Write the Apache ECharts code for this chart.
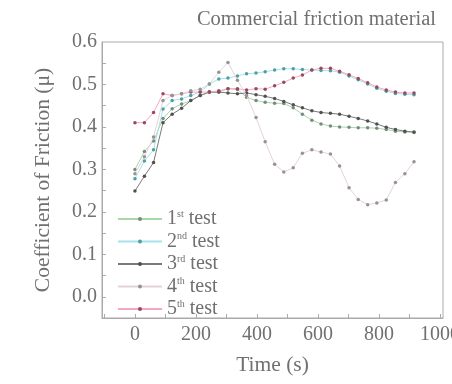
<!DOCTYPE html>
<html><head><meta charset="utf-8">
<script src="https://cdn.jsdelivr.net/npm/echarts@6/dist/echarts.min.js"></script>
<style>html,body{margin:0;padding:0;background:#fff}#c{width:452px;height:384px}</style>
</head><body><div id="c"></div>
<script>
const times = [0,31,61,92,122,153,183,214,244,275,305,336,366,397,427,458,488,519,549,580,610,641,671,702,732,763,793,824,854,885,915];
const test1 = [0.300,0.342,0.367,0.420,0.443,0.454,0.462,0.474,0.482,0.482,0.490,0.488,0.470,0.462,0.458,0.456,0.455,0.445,0.430,0.416,0.407,0.402,0.400,0.399,0.398,0.398,0.397,0.394,0.390,0.388,0.387];
const test2 = [0.278,0.320,0.346,0.442,0.462,0.466,0.474,0.482,0.501,0.513,0.515,0.520,0.525,0.527,0.530,0.534,0.537,0.537,0.535,0.534,0.533,0.532,0.529,0.520,0.511,0.501,0.491,0.484,0.479,0.477,0.476];
const test3 = [0.249,0.284,0.316,0.410,0.430,0.444,0.462,0.474,0.482,0.482,0.480,0.478,0.480,0.476,0.472,0.467,0.460,0.452,0.445,0.438,0.434,0.432,0.430,0.425,0.420,0.414,0.407,0.399,0.394,0.390,0.388];
const test4 = [0.290,0.330,0.376,0.462,0.474,0.478,0.485,0.489,0.501,0.529,0.552,0.510,0.474,0.422,0.365,0.312,0.294,0.304,0.338,0.346,0.341,0.336,0.308,0.257,0.229,0.217,0.221,0.228,0.269,0.290,0.318];
const test5 = [0.410,0.410,0.434,0.478,0.474,0.478,0.482,0.482,0.482,0.485,0.490,0.490,0.487,0.490,0.489,0.497,0.505,0.515,0.522,0.534,0.538,0.538,0.531,0.523,0.514,0.504,0.494,0.487,0.482,0.480,0.480];
const xTickLabels = [0,200,400,600,800,1000];
const xTicks = [-100,0,100,200,300,400,500,600,700,800,900,1000];
const yTickLabels = [0,0.1,0.2,0.3,0.4,0.5,0.6];
const yTicks = [0,0.05,0.1,0.15,0.2,0.25,0.3,0.35,0.4,0.45,0.5,0.55];
const names = ['1st test','2nd test','3rd test','4th test','5th test'];
const lineColors = ['#a6d8aa','#a8e2ea','#7a7a7a','#e6d2d9','#f2a9c0'];
const markColors = ['#7a8a7e','#4aa0a4','#505050','#949494','#9a4862'];
const allData = [test1,test2,test3,test4,test5];

const FONT = 'Liberation Serif';
const TXT = '#707070';
const chart = echarts.init(document.getElementById('c'), null, {renderer:'canvas'});
const series = allData.map((d,i)=>({
  name: names[i], type:'line',
  data: times.map((t,j)=>[t,d[j]]),
  symbol:'circle', symbolSize:3.5,
  lineStyle:{color:lineColors[i], width:1},
  itemStyle:{color:markColors[i]},
  z: i===3?3:2
}));
chart.setOption({
  animation:false,
  title:{text:'Commercial friction material', right:11, top:4,
    textStyle:{fontFamily:FONT, fontSize:20.5, fontWeight:'normal', color:TXT}},
  grid:{left:102, right:9, top:42, bottom:66, show:true, borderColor:'#aaaaaa', borderWidth:1,
    containLabel:false, outerBoundsMode:'none'},
  legend:{orient:'vertical', left:112, top:204, itemWidth:44, itemHeight:5, itemGap:2.5,
    data:names,
    formatter:function(n){const m=n.match(/^(\d)(\w\w) (test)$/);return '{n|'+m[1]+'}{s|'+m[2]+'}{n| '+m[3]+'}';},
    textStyle:{color:TXT, rich:{
      n:{fontFamily:FONT, fontSize:20, color:TXT, verticalAlign:'bottom', lineHeight:20},
      s:{fontFamily:FONT, fontSize:10, color:TXT, verticalAlign:'top', lineHeight:20}
    }}},
  xAxis:{type:'value', min:-108, max:1010,
    name:'Time (s)', nameLocation:'middle', nameGap:36,
    nameTextStyle:{fontFamily:FONT, fontSize:21.5, color:TXT},
    axisLine:{show:true, onZero:false, lineStyle:{color:'#aaaaaa'}},
    axisTick:{show:true, inside:true, length:4, customValues:xTicks, lineStyle:{color:'#aaaaaa'}},
    axisLabel:{customValues:xTickLabels, fontFamily:FONT, fontSize:20, color:TXT, margin:7,
      formatter:v=>String(v)},
    splitLine:{show:false}},
  yAxis:{type:'value', min:-0.05, max:0.6,
    name:'Coefficient of Friction (μ)', nameLocation:'middle', nameGap:48, nameRotate:90,
    nameTextStyle:{fontFamily:FONT, fontSize:21.5, color:TXT},
    axisLine:{show:true, onZero:false, lineStyle:{color:'#aaaaaa'}},
    axisTick:{show:true, inside:true, length:4, customValues:yTicks, lineStyle:{color:'#aaaaaa'}},
    axisLabel:{customValues:yTickLabels, fontFamily:FONT, fontSize:20, color:TXT, margin:5,
      formatter:v=>v.toFixed(1)},
    splitLine:{show:false}},
  series:series
});
</script></body></html>
